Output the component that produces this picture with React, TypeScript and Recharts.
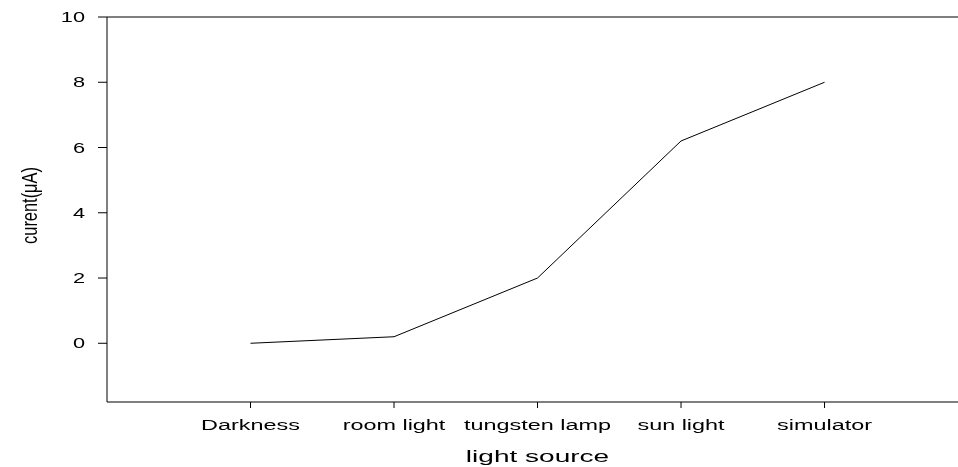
import React from "react";
import { LineChart, Line, XAxis, YAxis, ReferenceLine } from "recharts";

const categories = ["Darkness", "room light", "tungsten lamp", "sun light", "simulator"];
const currentValues = [0, 0.2, 2, 6.2, 8];
const categoryPositions = [1, 2, 3, 4, 5];
const yTicks = [0, 2, 4, 6, 8, 10];

const data = categories.map((name, i) => ({
  x: categoryPositions[i],
  name,
  value: currentValues[i],
}));

const FONT = "'Liberation Sans', Arial, Helvetica, sans-serif";

const YTick = (props: any) => {
  const { x, y, payload } = props;
  return (
    <text
      transform={`translate(${x},${y}) scale(1.5,1)`}
      textAnchor="end"
      dy="0.36em"
      fontSize={14.5}
      fontFamily={FONT}
      fill="#000"
    >
      {payload.value}
    </text>
  );
};

const XTick = (props: any) => {
  const { x, y, payload } = props;
  const label = categories[categoryPositions.indexOf(payload.value)] ?? "";
  return (
    <text
      transform={`translate(${x},${y + 20}) scale(1.52,1)`}
      textAnchor="middle"
      fontSize={15.4}
      fontFamily={FONT}
      fill="#000"
    >
      {label}
    </text>
  );
};

const XTitle = (props: any) => {
  const vb = props.viewBox || {};
  const cx = vb.x + 430.5;
  const cy = vb.y + 60;
  return (
    <text
      transform={`translate(${cx},${cy}) scale(1.72,1)`}
      textAnchor="middle"
      fontSize={16.3}
      fontFamily={FONT}
      fill="#000"
    >
      light source
    </text>
  );
};

const YTitle = (props: any) => {
  const vb = props.viewBox || {};
  const cx = vb.x + 21;
  const cy = vb.y + vb.height / 2 - 4;
  return (
    <text
      transform={`translate(${cx},${cy}) scale(1.35,1) rotate(-90)`}
      textAnchor="middle"
      dy="0.36em"
      fontSize={16.4}
      fontFamily={FONT}
      fill="#000"
    >
      curent(μA)
    </text>
  );
};

export default function App() {
  return (
    <div style={{ position: "fixed", left: 8, top: 8, width: 950, height: 459 }}>
      <LineChart
        width={950}
        height={459}
        data={data}
        margin={{ top: 9, right: 0, bottom: 0, left: 0 }}
      >
        <XAxis
          type="number"
          dataKey="x"
          domain={[0, 5.93]}
          ticks={categoryPositions}
          interval={0}
          height={65}
          tickSize={6}
          stroke="#000"
          tickLine={{ stroke: "#000" }}
          axisLine={{ stroke: "#000" }}
          tick={<XTick />}
          label={<XTitle />}
          allowDataOverflow
        />
        <YAxis
          type="number"
          domain={[-1.8, 10]}
          ticks={yTicks}
          interval={0}
          width={99}
          tickSize={9}
          tickMargin={13}
          stroke="#000"
          tickLine={{ stroke: "#000" }}
          axisLine={{ stroke: "#000" }}
          tick={<YTick />}
          label={<YTitle />}
          allowDataOverflow
        />
        <ReferenceLine y={10} stroke="#000" strokeWidth={1} />
        <Line
          type="linear"
          dataKey="value"
          stroke="#000"
          strokeWidth={1}
          dot={false}
          isAnimationActive={false}
        />
      </LineChart>
    </div>
  );
}
